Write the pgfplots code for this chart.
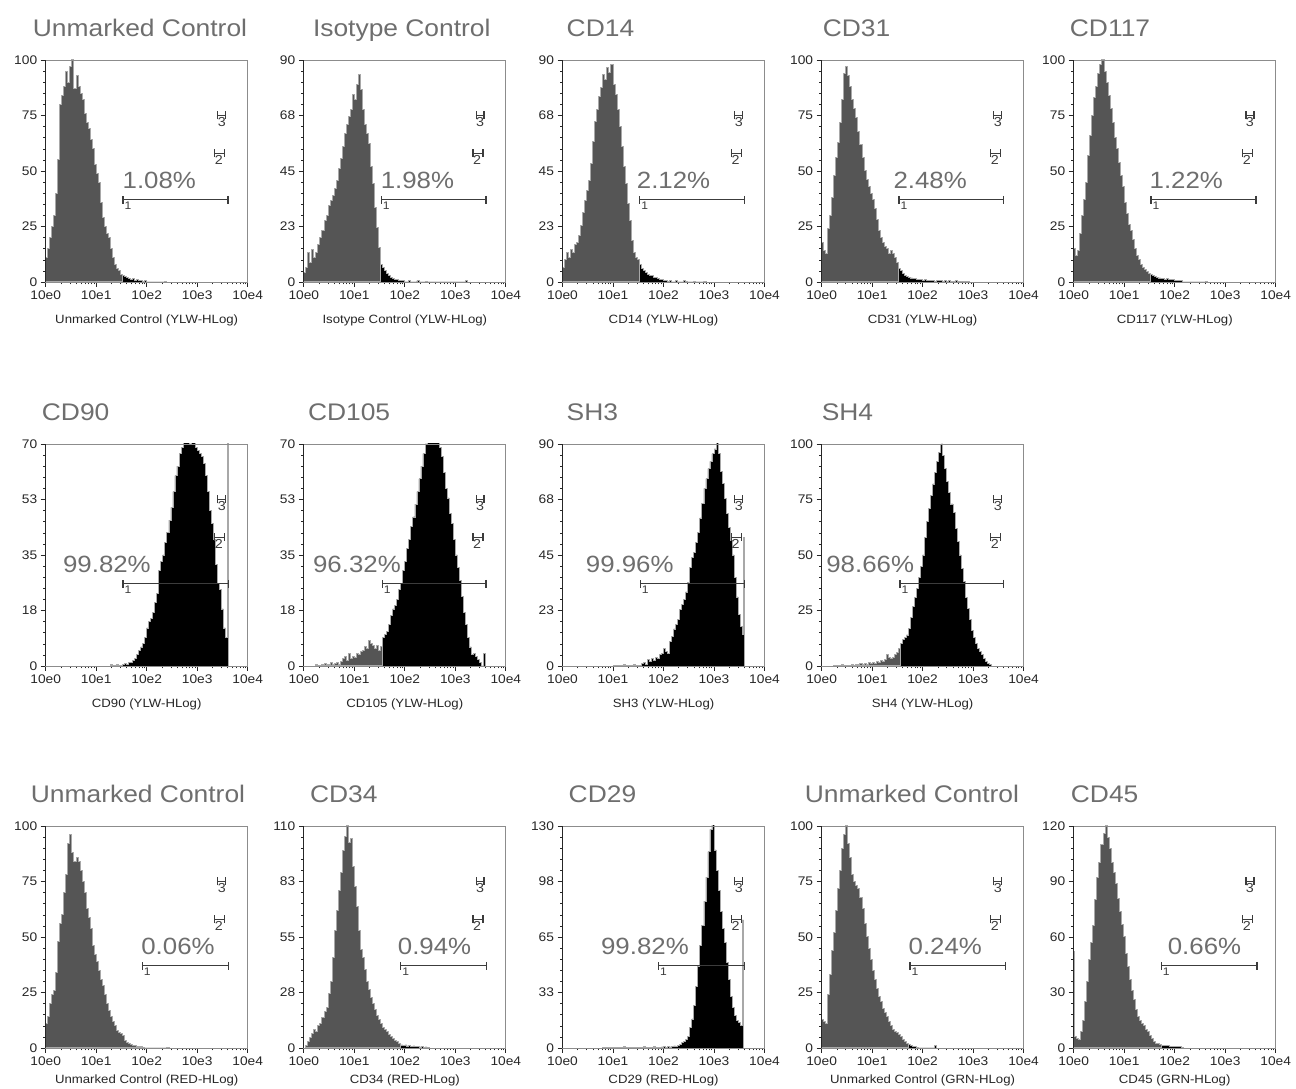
\documentclass[border=0pt]{standalone}
\usepackage{fontspec}
\setmainfont{Liberation Sans}[FakeStretch=1.1]
\usepackage{pgfplots}
\pgfplotsset{compat=1.18}
\usepackage{pgfplotstable}
\usetikzlibrary{arrows.meta}

\definecolor{histgray}{HTML}{555555}
\definecolor{spikegray}{HTML}{A8A8A8}
\definecolor{titlegray}{HTML}{6E6E6E}
\definecolor{labc}{HTML}{262626}
\definecolor{framec}{HTML}{8C8C8C}
\definecolor{gatec}{HTML}{3C3C3C}

\pgfplotsset{
 panel/.style={
  scale only axis, width=202pt, height=222pt, anchor=south west,
  xmin=0, xmax=4, ymin=0,
  axis on top,
  axis line style={draw=framec, line width=0.8pt},
  tick pos=left, tick align=outside,
  xtick={0,1,2,3,4}, xticklabels={10e0,10e1,10e2,10e3,10e4},
  minor xtick={0.301,0.477,0.602,0.699,0.778,0.845,0.903,0.954,
   1.301,1.477,1.602,1.699,1.778,1.845,1.903,1.954,
   2.301,2.477,2.602,2.699,2.778,2.845,2.903,2.954,
   3.301,3.477,3.602,3.699,3.778,3.845,3.903,3.954},
  minor y tick num=4,
  major tick length=5pt, minor tick length=2.5pt,
  tick style={labc, line width=0.7pt},
  minor tick style={line width=0.5pt},
  tick label style={font=\fontsize{12.5}{14}\selectfont, text=labc},
  xlabel style={at={(0.5,0)}, anchor=base, yshift=-42pt, inner sep=0pt, font=\fontsize{12}{13}\selectfont, text=labc},
  title style={at={(0,1)}, anchor=base west, yshift=17pt, inner sep=0pt, font=\fontsize{24}{28}\selectfont, text=titlegray},
  extra description/.code={\draw[labc, line width=1pt] (0,0) -- (0,1);},
 },
 lastrow/.style={xlabel style={yshift=6pt}},
}

\newcommand{\hist}[2]{%
 \addplot[const plot, fill=histgray, draw=spikegray, line width=1pt, restrict x to domain=0:#2] table[x=x,y=y] {#1} \closedcycle;
 \addplot[const plot, fill=black, draw=spikegray, line width=0.8pt, restrict x to domain=#2:4] table[x=x,y=y] {#1} \closedcycle;
}
\newcommand{\gates}[4]{%
 \draw[gatec, line width=1.2pt, {Bar[width=8pt]}-{Bar[width=8pt]}] ({axis cs:#1,0}|-{rel axis cs:0,0.37}) -- ({axis cs:#2,0}|-{rel axis cs:0,0.37});
 \node[text=gatec, font=\fontsize{11}{11}\selectfont, anchor=north west, inner sep=0pt, xshift=2pt] at ({axis cs:#1,0}|-{rel axis cs:0,0.36}) {1};
 \draw[gatec, line width=1.1pt, {Bar[width=8pt]}-{Bar[width=8pt]}] ({axis cs:3.40,0}|-{rel axis cs:0,0.75}) -- ({axis cs:3.58,0}|-{rel axis cs:0,0.75});
 \node[text=gatec, font=\fontsize{13}{13}\selectfont, anchor=north, inner sep=0pt] at ({axis cs:3.49,0}|-{rel axis cs:0,0.74}) {3};
 \draw[gatec, line width=1.1pt, {Bar[width=8pt]}-{Bar[width=8pt]}] ({axis cs:3.34,0}|-{rel axis cs:0,0.58}) -- ({axis cs:3.56,0}|-{rel axis cs:0,0.58});
 \node[text=gatec, font=\fontsize{13}{13}\selectfont, anchor=north, inner sep=0pt] at ({axis cs:3.43,0}|-{rel axis cs:0,0.57}) {2};
 \node[anchor=base west, font=\fontsize{23.5}{26}\selectfont, text=titlegray, inner sep=0pt] at ({axis cs:#4,0}|-{rel axis cs:0,0.42}) {#3\%};
}

% Unmarked Control (YLW)
\pgfplotstableread[row sep=\\]{x y\\0 11\\0.04 15\\0.08 20\\0.12 25\\0.16 30\\0.20 40\\0.24 55\\0.28 80\\0.32 84\\0.36 88\\0.40 95\\0.44 90\\0.48 97\\0.52 100\\0.56 87\\0.60 93\\0.64 88\\0.68 85\\0.72 82\\0.76 76\\0.80 72\\0.84 69\\0.88 64\\0.92 60\\0.96 53\\1.00 49\\1.04 45\\1.08 36\\1.12 29\\1.16 25\\1.20 22\\1.24 20\\1.28 15\\1.32 11\\1.36 8\\1.40 6\\1.44 5\\1.48 3.5\\1.52 3\\1.56 2.5\\1.60 2\\1.64 1.6\\1.68 1.2\\1.72 1.4\\1.76 0.8\\1.80 1\\1.84 0.6\\1.88 0.8\\1.92 0.4\\1.96 0.6\\2.00 0\\2.36 0.4\\2.40 0\\}\tA
% Isotype Control
\pgfplotstableread[row sep=\\]{x y\\0 4\\0.04 6\\0.08 12\\0.12 8\\0.16 13\\0.20 10\\0.24 12\\0.28 15\\0.32 18\\0.36 21\\0.40 25\\0.44 27\\0.48 31\\0.52 33\\0.56 35\\0.60 38\\0.64 41\\0.68 46\\0.72 50\\0.76 55\\0.80 60\\0.84 64\\0.88 67\\0.92 70\\0.96 76\\1.00 74\\1.04 80\\1.08 84\\1.12 78\\1.16 70\\1.20 64\\1.24 60\\1.28 56\\1.32 47\\1.36 40\\1.40 30\\1.44 22\\1.48 14\\1.52 7\\1.56 6\\1.60 4.5\\1.64 3.5\\1.68 2.8\\1.72 2\\1.76 1.6\\1.80 1.2\\1.84 1\\1.88 0.7\\1.92 0.8\\1.96 0.5\\2.00 0\\2.08 0.5\\2.12 0\\2.24 0.6\\2.28 0\\2.40 0.4\\2.44 0\\3.20 0.6\\3.24 0\\}\tB
% CD14
\pgfplotstableread[row sep=\\]{x y\\0 6\\0.04 9\\0.08 12\\0.12 10\\0.16 13\\0.20 12\\0.24 15\\0.28 16\\0.32 19\\0.36 23\\0.40 28\\0.44 33\\0.48 37\\0.52 41\\0.56 48\\0.60 57\\0.64 65\\0.68 70\\0.72 75\\0.76 79\\0.80 84\\0.84 82\\0.88 87\\0.92 85\\0.96 88\\1.00 80\\1.04 76\\1.08 70\\1.12 63\\1.16 55\\1.20 47\\1.24 40\\1.28 32\\1.32 25\\1.36 17\\1.40 12\\1.44 10\\1.48 9\\1.52 7\\1.56 5.5\\1.60 4.5\\1.64 4\\1.68 3\\1.72 2.5\\1.76 2.5\\1.80 2\\1.84 1.8\\1.88 1.6\\1.92 1.2\\1.96 1\\2.00 0.6\\2.04 0.8\\2.08 0.4\\2.12 0.6\\2.16 0\\2.24 0.5\\2.28 0\\2.40 0.5\\2.44 0.3\\2.48 0\\2.60 0.4\\2.64 0\\2.80 0.3\\2.84 0\\}\tC
% CD31
\pgfplotstableread[row sep=\\]{x y\\0 18\\0.04 14\\0.08 13\\0.12 24\\0.16 30\\0.20 38\\0.24 48\\0.28 56\\0.32 63\\0.36 72\\0.40 82\\0.44 94\\0.48 97\\0.52 93\\0.56 88\\0.60 82\\0.64 78\\0.68 74\\0.72 68\\0.76 62\\0.80 56\\0.84 50\\0.88 46\\0.92 43\\0.96 40\\1.00 37\\1.04 33\\1.08 28\\1.12 23\\1.16 20\\1.20 18\\1.24 16\\1.28 15\\1.32 13\\1.36 14\\1.40 13\\1.44 11\\1.48 9\\1.52 6\\1.56 5\\1.60 4\\1.64 3\\1.68 2.5\\1.72 2\\1.76 1.8\\1.80 1.5\\1.84 1.4\\1.88 1.2\\1.92 1\\1.96 1.2\\2.00 0.8\\2.04 1\\2.08 0.6\\2.12 0.8\\2.16 0.5\\2.20 0.7\\2.24 0.4\\2.28 0.6\\2.32 0.5\\2.36 0.6\\2.40 0.4\\2.44 0.5\\2.48 0.3\\2.52 0.5\\2.56 0.4\\2.60 0.3\\2.64 0.5\\2.68 0.3\\2.72 0.4\\2.76 0.3\\2.80 0.4\\2.84 0.3\\2.88 0.2\\2.92 0\\}\tD
% CD117
\pgfplotstableread[row sep=\\]{x y\\0 15\\0.04 12\\0.08 14\\0.12 22\\0.16 30\\0.20 37\\0.24 45\\0.28 57\\0.32 66\\0.36 75\\0.40 83\\0.44 88\\0.48 94\\0.52 98\\0.56 100\\0.60 95\\0.64 90\\0.68 84\\0.72 78\\0.76 72\\0.80 65\\0.84 60\\0.88 54\\0.92 48\\0.96 43\\1.00 36\\1.04 31\\1.08 26\\1.12 23\\1.16 19\\1.20 15\\1.24 12\\1.28 10\\1.32 8\\1.36 6.5\\1.40 5.5\\1.44 4.5\\1.48 4\\1.52 3.5\\1.56 3\\1.60 2.6\\1.64 2.2\\1.68 1.8\\1.72 1.6\\1.76 1.5\\1.80 1.3\\1.84 1.4\\1.88 1.1\\1.92 1\\1.96 1.1\\2.00 0.8\\2.04 0.7\\2.08 0.8\\2.12 0.5\\2.16 0\\2.60 0.4\\2.64 0\\}\tE
% CD90
\pgfplotstableread[row sep=\\]{x y\\1.28 0.5\\1.32 0\\1.40 0.6\\1.44 0\\1.52 0.5\\1.56 0.8\\1.60 0.4\\1.64 1\\1.68 1.2\\1.72 1.8\\1.76 2.5\\1.80 3.5\\1.84 5\\1.88 6\\1.92 7\\1.96 9\\2.00 12\\2.04 14\\2.08 15\\2.12 17\\2.16 20\\2.20 23\\2.24 30\\2.28 33\\2.32 35\\2.36 39\\2.40 42\\2.44 46\\2.48 50\\2.52 55\\2.56 60\\2.60 63\\2.64 67\\2.68 69\\2.72 72\\2.76 74\\2.80 73\\2.84 70\\2.88 72\\2.92 71\\2.96 69\\3.00 68\\3.04 67\\3.08 66\\3.12 64\\3.16 60\\3.20 55\\3.24 49\\3.28 45\\3.32 40\\3.36 32\\3.40 26\\3.44 24\\3.48 18\\3.52 12\\3.56 9\\3.60 75\\3.62 0\\}\tF
% CD105
\pgfplotstableread[row sep=\\]{x y\\0.24 0.6\\0.28 0\\0.36 0.5\\0.40 0.8\\0.44 0.4\\0.48 0.6\\0.52 1\\0.56 0.5\\0.60 0.8\\0.64 1.2\\0.68 0.6\\0.72 1.5\\0.76 2.5\\0.80 3\\0.84 1.8\\0.88 4\\0.92 2.5\\0.96 3\\1.00 2.8\\1.04 4\\1.08 3.5\\1.12 4.5\\1.16 5\\1.20 6\\1.24 5.5\\1.28 8\\1.32 7\\1.36 6.5\\1.40 5.5\\1.44 6.5\\1.48 5\\1.52 6\\1.56 9\\1.60 10\\1.64 11\\1.68 13\\1.72 16\\1.76 18\\1.80 19\\1.84 21\\1.88 24\\1.92 26\\1.96 30\\2.00 33\\2.04 37\\2.08 40\\2.12 44\\2.16 47\\2.20 51\\2.24 55\\2.28 59\\2.32 63\\2.36 67\\2.40 70\\2.44 73\\2.48 75\\2.52 74\\2.56 76\\2.60 73\\2.64 71\\2.68 69\\2.72 66\\2.76 61\\2.80 56\\2.84 53\\2.88 48\\2.92 45\\2.96 40\\3.00 35\\3.04 31\\3.08 27\\3.12 22\\3.16 17\\3.20 13\\3.24 9\\3.28 6\\3.32 3.5\\3.36 4\\3.40 3\\3.44 2\\3.48 1\\3.52 0\\3.56 4\\3.60 0\\}\tG
% SH3
\pgfplotstableread[row sep=\\]{x y\\1.00 0.4\\1.04 0\\1.20 0.5\\1.24 0\\1.40 0.6\\1.44 0\\1.56 1\\1.60 1.5\\1.64 0.8\\1.68 2.5\\1.72 1.8\\1.76 3\\1.80 2.4\\1.84 3.5\\1.88 3\\1.92 4.5\\1.96 5\\2.00 7\\2.04 6\\2.08 5\\2.12 10\\2.16 12\\2.20 15\\2.24 17\\2.28 19\\2.32 23\\2.36 25\\2.40 27\\2.44 30\\2.48 34\\2.52 40\\2.56 44\\2.60 46\\2.64 50\\2.68 54\\2.72 60\\2.76 66\\2.80 72\\2.84 76\\2.88 80\\2.92 83\\2.96 86\\3.00 88\\3.04 92\\3.08 86\\3.12 79\\3.16 74\\3.20 68\\3.24 62\\3.28 56\\3.32 51\\3.36 45\\3.40 36\\3.44 28\\3.48 21\\3.52 16\\3.56 13\\3.58 52\\3.60 0\\}\tH
% SH4
\pgfplotstableread[row sep=\\]{x y\\0.24 0.4\\0.28 0\\0.40 0.5\\0.44 0\\0.60 0.6\\0.64 0.3\\0.68 0.8\\0.72 0.5\\0.76 1\\0.80 0.6\\0.84 1.2\\0.88 0.8\\0.92 1.5\\0.96 1\\1.00 1.6\\1.04 1.2\\1.08 2\\1.12 1.5\\1.16 2.5\\1.20 2\\1.24 3\\1.28 5\\1.32 4\\1.36 3.5\\1.40 4\\1.44 5\\1.48 6\\1.52 8\\1.56 10\\1.60 12\\1.64 13\\1.68 14\\1.72 17\\1.76 22\\1.80 27\\1.84 31\\1.88 35\\1.92 40\\1.96 45\\2.00 50\\2.04 58\\2.08 65\\2.12 71\\2.16 77\\2.20 82\\2.24 87\\2.28 92\\2.32 96\\2.36 100\\2.40 95\\2.44 89\\2.48 83\\2.52 78\\2.56 73\\2.60 69\\2.64 62\\2.68 56\\2.72 50\\2.76 44\\2.80 38\\2.84 31\\2.88 26\\2.92 21\\2.96 16\\3.00 13\\3.04 10\\3.08 8\\3.12 6.5\\3.16 5\\3.20 3.5\\3.24 2\\3.28 1\\3.32 0.5\\3.36 0\\}\tI
% Unmarked Control (RED)
\pgfplotstableread[row sep=\\]{x y\\0 11\\0.04 14\\0.08 20\\0.12 24\\0.16 26\\0.20 34\\0.24 48\\0.28 56\\0.32 60\\0.36 70\\0.40 78\\0.44 92\\0.48 96\\0.52 88\\0.56 84\\0.60 86\\0.64 84\\0.68 80\\0.72 75\\0.76 70\\0.80 63\\0.84 59\\0.88 54\\0.92 46\\0.96 42\\1.00 39\\1.04 35\\1.08 31\\1.12 28\\1.16 24\\1.20 20\\1.24 17\\1.28 14\\1.32 12\\1.36 10\\1.40 8\\1.44 7\\1.48 6.5\\1.52 5.5\\1.56 3.5\\1.60 2.5\\1.64 2\\1.68 1.5\\1.72 1.2\\1.76 1\\1.80 0.8\\1.84 0.6\\1.88 0.5\\1.92 0.4\\1.96 0\\2.40 0.4\\2.44 0\\}\tJ
% CD34
\pgfplotstableread[row sep=\\]{x y\\0.04 1\\0.08 3\\0.12 5\\0.16 7\\0.20 9\\0.24 8\\0.28 11\\0.32 12\\0.36 15\\0.40 18\\0.44 20\\0.48 27\\0.52 33\\0.56 45\\0.60 58\\0.64 68\\0.68 78\\0.72 87\\0.76 98\\0.80 105\\0.84 110\\0.88 102\\0.92 104\\0.96 90\\1.00 80\\1.04 70\\1.08 58\\1.12 49\\1.16 45\\1.20 39\\1.24 33\\1.28 29\\1.32 25\\1.36 22\\1.40 19\\1.44 16\\1.48 14\\1.52 12\\1.56 10\\1.60 9\\1.64 8\\1.68 6.5\\1.72 5.5\\1.76 4.5\\1.80 3.5\\1.84 3\\1.88 2\\1.92 1.5\\1.96 1.2\\2.00 1.5\\2.04 1\\2.08 1.2\\2.12 0.8\\2.16 1\\2.20 0.6\\2.24 0.8\\2.28 0.5\\2.32 0.6\\2.36 0.4\\2.40 0.5\\2.44 0.4\\2.48 0\\}\tK
% CD29
\pgfplotstableread[row sep=\\]{x y\\0.80 0.5\\0.84 0\\1.20 0.6\\1.24 0\\1.60 0.6\\1.64 0.3\\1.80 0.8\\1.84 0.4\\1.96 0.6\\2.00 0.8\\2.04 0.4\\2.08 1\\2.12 0.6\\2.16 0.8\\2.20 1.2\\2.24 1\\2.28 1.5\\2.32 2\\2.36 3\\2.40 4\\2.44 5\\2.48 7\\2.52 12\\2.56 17\\2.60 25\\2.64 36\\2.68 48\\2.72 60\\2.76 72\\2.80 86\\2.84 100\\2.88 115\\2.92 128\\2.96 134\\3.00 116\\3.04 104\\3.08 92\\3.12 80\\3.16 70\\3.20 62\\3.24 50\\3.28 40\\3.32 30\\3.36 24\\3.40 19\\3.44 16\\3.48 15\\3.52 13\\3.56 75\\3.58 0\\}\tL
% Unmarked Control (GRN)
\pgfplotstableread[row sep=\\]{x y\\0 13\\0.04 12\\0.08 11\\0.12 24\\0.16 33\\0.20 44\\0.24 52\\0.28 62\\0.32 72\\0.36 80\\0.40 90\\0.44 96\\0.48 100\\0.52 92\\0.56 86\\0.60 78\\0.64 75\\0.68 73\\0.72 72\\0.76 68\\0.80 63\\0.84 56\\0.88 50\\0.92 45\\0.96 40\\1.00 35\\1.04 31\\1.08 27\\1.12 23\\1.16 21\\1.20 18\\1.24 16\\1.28 14\\1.32 12\\1.36 10\\1.40 8.5\\1.44 7.5\\1.48 7\\1.52 6\\1.56 5\\1.60 4\\1.64 3\\1.68 2\\1.72 1.5\\1.76 1.2\\1.80 0.8\\1.84 0.6\\1.88 0.4\\1.92 0\\2.24 1\\2.28 0\\}\tM
% CD45
\pgfplotstableread[row sep=\\]{x y\\0 52\\0.02 6\\0.06 5\\0.10 4.5\\0.14 9\\0.18 15\\0.22 25\\0.26 36\\0.30 48\\0.34 57\\0.38 66\\0.42 80\\0.46 92\\0.50 100\\0.54 110\\0.58 116\\0.62 120\\0.66 114\\0.70 108\\0.74 100\\0.78 95\\0.82 89\\0.86 81\\0.90 74\\0.94 67\\0.98 60\\1.02 51\\1.06 44\\1.10 37\\1.14 31\\1.18 26\\1.22 21\\1.26 17\\1.30 15\\1.34 13\\1.38 12\\1.42 10\\1.46 9\\1.50 7\\1.54 5\\1.58 3.5\\1.62 2.7\\1.66 2.2\\1.70 1.8\\1.74 1.5\\1.78 1.4\\1.82 1.3\\1.86 1.2\\1.90 1\\1.94 0.9\\1.98 0.8\\2.02 0.7\\2.06 0.6\\2.10 0.7\\2.14 0.4\\2.18 0\\}\tN

\begin{document}
\begin{tikzpicture}
\useasboundingbox (0,0) rectangle (1296pt,1089pt);

% ---------- Row 1 ----------
\begin{axis}[panel, at={(45.7pt,807pt)}, ymax=100, ytick={0,25,50,75,100}, yticklabels={0,25,50,75,100},
  title={Unmarked Control}, title style={xshift=-13pt}, xlabel={Unmarked Control (YLW-HLog)}]
\hist{\tA}{1.52}
\gates{1.52}{3.62}{1.08}{1.52}
\end{axis}

\begin{axis}[panel, at={(303.8pt,807pt)}, ymax=90, ytick={0,22.5,45,67.5,90}, yticklabels={0,23,45,68,90},
  title={Isotype Control}, title style={xshift=9pt}, xlabel={Isotype Control (YLW-HLog)}]
\hist{\tB}{1.52}
\gates{1.52}{3.62}{1.98}{1.52}
\end{axis}

\begin{axis}[panel, at={(562.5pt,807pt)}, ymax=90, ytick={0,22.5,45,67.5,90}, yticklabels={0,23,45,68,90},
  title={CD14}, title style={xshift=4pt}, xlabel={CD14 (YLW-HLog)}]
\hist{\tC}{1.52}
\gates{1.52}{3.62}{2.12}{1.47}
\end{axis}

\begin{axis}[panel, at={(821.6pt,807pt)}, ymax=100, ytick={0,25,50,75,100}, yticklabels={0,25,50,75,100},
  title={CD31}, title style={xshift=1pt}, xlabel={CD31 (YLW-HLog)}]
\hist{\tD}{1.52}
\gates{1.52}{3.62}{2.48}{1.42}
\end{axis}

\begin{axis}[panel, at={(1073.7pt,807pt)}, ymax=100, ytick={0,25,50,75,100}, yticklabels={0,25,50,75,100},
  title={CD117}, title style={xshift=-4pt}, xlabel={CD117 (YLW-HLog)}]
\hist{\tE}{1.52}
\gates{1.52}{3.62}{1.22}{1.50}
\end{axis}

% ---------- Row 2 ----------
\begin{axis}[panel, at={(45.7pt,423pt)}, ymax=70, ytick={0,17.5,35,52.5,70}, yticklabels={0,18,35,53,70},
  title={CD90}, title style={xshift=-4pt}, xlabel={CD90 (YLW-HLog)}]
\hist{\tF}{1.52}
\gates{1.52}{3.63}{99.82}{0.34}
\end{axis}

\begin{axis}[panel, at={(303.8pt,423pt)}, ymax=70, ytick={0,17.5,35,52.5,70}, yticklabels={0,18,35,53,70},
  title={CD105}, title style={xshift=4pt}, xlabel={CD105 (YLW-HLog)}]
\hist{\tG}{1.56}
\gates{1.54}{3.62}{96.32}{0.18}
\end{axis}

\begin{axis}[panel, at={(562.5pt,423pt)}, ymax=90, ytick={0,22.5,45,67.5,90}, yticklabels={0,23,45,68,90},
  title={SH3}, title style={xshift=4pt}, xlabel={SH3 (YLW-HLog)}]
\hist{\tH}{1.56}
\gates{1.53}{3.62}{99.96}{0.46}
\end{axis}

\begin{axis}[panel, at={(821.6pt,423pt)}, ymax=100, ytick={0,25,50,75,100}, yticklabels={0,25,50,75,100},
  title={SH4}, title style={xshift=0pt}, xlabel={SH4 (YLW-HLog)}]
\hist{\tI}{1.56}
\gates{1.54}{3.62}{98.66}{0.09}
\end{axis}

% ---------- Row 3 ----------
\begin{axis}[panel, lastrow, at={(45.7pt,41pt)}, ymax=100, ytick={0,25,50,75,100}, yticklabels={0,25,50,75,100},
  title={Unmarked Control}, title style={xshift=-15pt}, xlabel={Unmarked Control (RED-HLog)}]
\hist{\tJ}{1.92}
\gates{1.90}{3.63}{0.06}{1.89}
\end{axis}

\begin{axis}[panel, lastrow, at={(303.8pt,41pt)}, ymax=110, ytick={0,27.5,55,82.5,110}, yticklabels={0,28,55,83,110},
  title={CD34}, title style={xshift=6pt}, xlabel={CD34 (RED-HLog)}]
\hist{\tK}{1.92}
\gates{1.91}{3.63}{0.94}{1.86}
\end{axis}

\begin{axis}[panel, lastrow, at={(562.5pt,41pt)}, ymax=130, ytick={0,32.5,65,97.5,130}, yticklabels={0,33,65,98,130},
  title={CD29}, title style={xshift=6pt}, xlabel={CD29 (RED-HLog)}]
\hist{\tL}{1.84}
\gates{1.89}{3.61}{99.82}{0.76}
\end{axis}

\begin{axis}[panel, lastrow, at={(821.6pt,41pt)}, ymax=100, ytick={0,25,50,75,100}, yticklabels={0,25,50,75,100},
  title={Unmarked Control}, title style={xshift=-17pt}, xlabel={Unmarked Control (GRN-HLog)}]
\hist{\tM}{1.72}
\gates{1.74}{3.65}{0.24}{1.72}
\end{axis}

\begin{axis}[panel, lastrow, at={(1073.7pt,41pt)}, ymax=120, ytick={0,30,60,90,120}, yticklabels={0,30,60,90,120},
  title={CD45}, title style={xshift=-3pt}, xlabel={CD45 (GRN-HLog)}]
\hist{\tN}{1.74}
\gates{1.72}{3.64}{0.66}{1.86}
\end{axis}
\end{tikzpicture}
\end{document}
